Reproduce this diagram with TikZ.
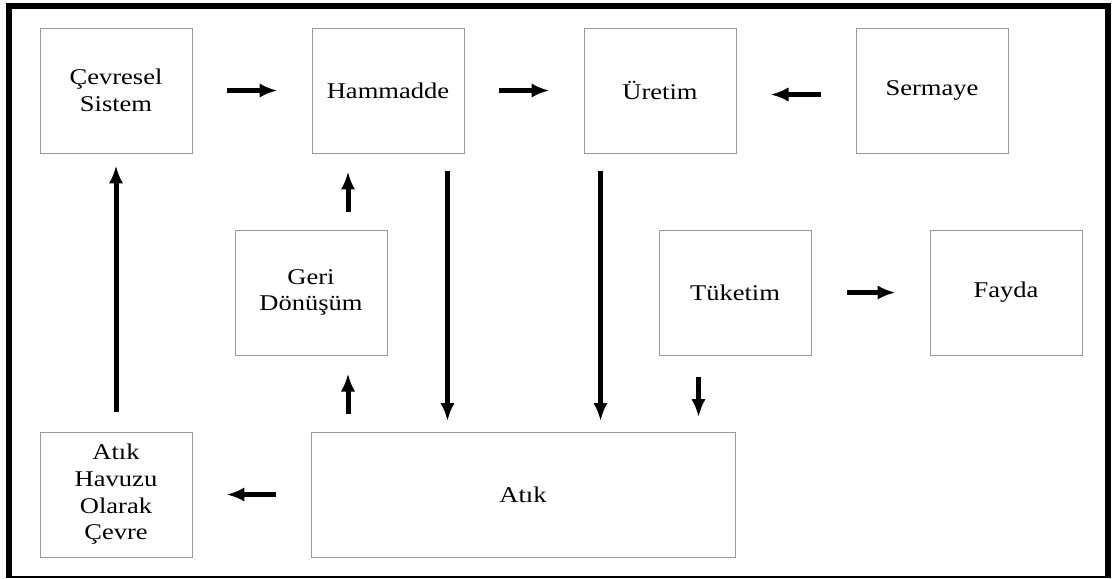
\documentclass[tikz,border=0pt]{standalone}
\usepackage{fontspec}
\setmainfont{Liberation Serif}[FakeStretch=1.18]
\usetikzlibrary{positioning, arrows.meta}
\tikzset{
    box/.style={draw=black!40, line width=0.7pt, minimum width=3.8cm, minimum height=3.125cm, align=center, inner sep=0pt, font=\fontsize{16}{19}\selectfont}, % the gray boxes
    arr/.style={line width=0.125cm, -{Latex[length=0.45cm,width=0.36cm]}}, % thick black arrows
    harr/.style={arr, shorten <=0.875cm, shorten >=0.85cm}, % short arrows between boxes in a row
}
\begin{document}
\begin{tikzpicture}[node distance=6.8cm]
    \useasboundingbox (0,0) rectangle (27.825,-14.45);
    % frame
    \draw[line width=0.15cm] (0.225,-14.4) -- (0.225,-0.15) -- (27.71,-0.15) -- (27.71,-14.4);
    \draw[line width=0.05cm] (0.15,-14.425) -- (27.77,-14.425);

    \node[box] (cevre) at (2.9,-2.2625) {Çevresel\\Sistem};
    \node[box, right of=cevre] (ham) {Hammadde};
    \node[box, right of=ham] (uretim) {Üretim};
    \node[box, right of=uretim] (sermaye) {Sermaye};
    \node[box] (geri) at (7.775,-7.3125) {Geri\\Dönüşüm};
    \node[box] (tuketim) at (18.375,-7.3125) {Tüketim};
    \node[box, right of=tuketim, node distance=6.775cm] (fayda) {Fayda};
    \node[box] (havuz) at (2.9,-12.3625) {Atık\\Havuzu\\Olarak\\Çevre};
    \node[box, minimum width=10.6cm] (atik) at (13.075,-12.375) {Atık};

    \coordinate (g1) at ([xshift=0.925cm]geri.north);
    \coordinate (g2) at ([xshift=0.925cm]geri.south);
    \coordinate (h1) at ([xshift=-0.425cm]ham.south east);
    \coordinate (u1) at ([xshift=0.425cm]uretim.south west);
    \coordinate (t1) at ([xshift=1cm]tuketim.south west);

    \draw[harr] (cevre) -- (ham);
    \draw[harr] (ham) -- (uretim);
    \draw[harr] ([yshift=-0.1cm]sermaye.west) -- ([yshift=-0.1cm]uretim.east);
    \draw[harr] (tuketim) -- (fayda);
    \draw[harr] (atik.west |- havuz) -- (havuz);
    \draw[arr, shorten <=0.5cm, shorten >=0.3cm] (havuz) -- (cevre);
    \draw[arr, shorten <=0.45cm, shorten >=0.45cm] (g1) -- (g1 |- ham.south);
    \draw[arr, shorten <=0.45cm, shorten >=0.45cm] (g2 |- atik.north) -- (g2);
    \draw[arr, shorten <=0.45cm, shorten >=0.275cm] (h1) -- (h1 |- atik.north);
    \draw[arr, shorten <=0.45cm, shorten >=0.275cm] (u1) -- (u1 |- atik.north);
    \draw[arr, shorten <=0.525cm, shorten >=0.375cm] (t1) -- (t1 |- atik.north);
\end{tikzpicture}
\end{document}
